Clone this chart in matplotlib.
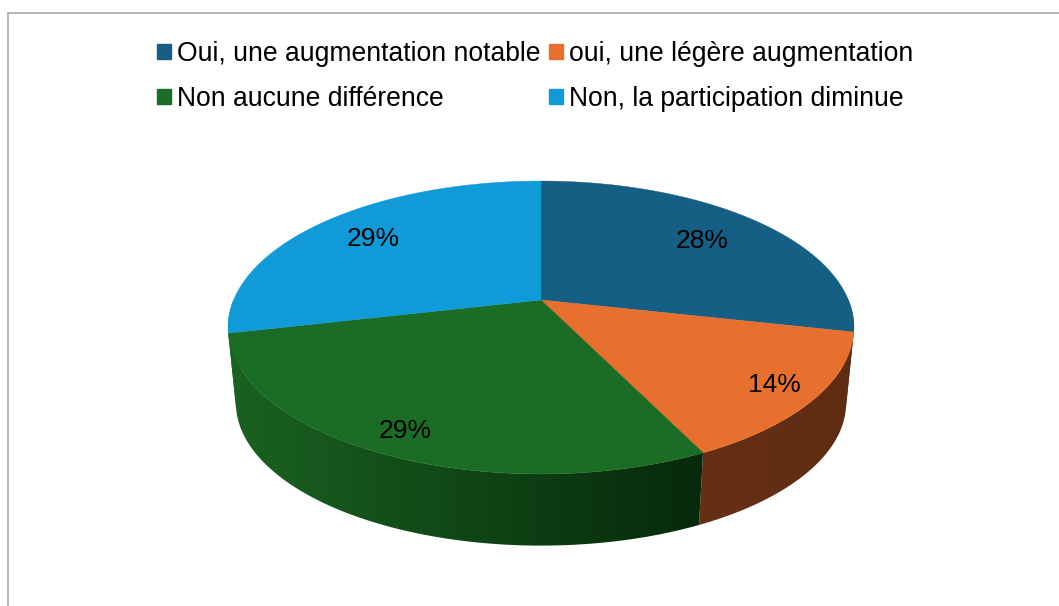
import numpy as np
import matplotlib
matplotlib.use('Agg')
import matplotlib.pyplot as plt
from matplotlib.patches import Patch, Polygon
from matplotlib.colors import to_rgb

plt.rcParams['font.family'] = ['Liberation Sans', 'DejaVu Sans']

# data
categories = ['Oui, une augmentation notable', 'oui, une légère augmentation',
              'Non aucune différence', 'Non, la participation diminue']
shares = [28.49, 14.29, 28.61, 28.61]
top_colors = ['#155f85', '#e8702e', '#1b6c25', '#109bd8']
# rim colours, at the left and the right end of each slice
rim_left = ['#663015', '#663015', '#1a6221', '#1a6221']
rim_right = ['#5f2c12', '#5f2c12', '#062a0b', '#1a6221']
label_radius = [0.73, 0.87, 0.875, 0.76]

# pie geometry, in pixels of the picture
cx, cy = 541, 300
ax_x, ax_y = 307.4, 141.3
persp = 0.1877
low_scale, low_cy = 0.975, 376


def project(angle, r=1.0, centre_y=cy, scale=1.0):
    # clockwise angle from the top of the pie -> picture position
    u, v = r * np.sin(angle), r * np.cos(angle)
    d = 1 + persp * v
    return cx + scale * ax_x * u / d, centre_y - scale * ax_y * v / d


fig = plt.figure(figsize=(10.59, 6.06), dpi=100)
ax = fig.add_axes([8 / 1059, 0, 1 - 8 / 1059, 1 - 13 / 606])
ax.set_xticks([])
ax.set_yticks([])
for side in ['bottom', 'right']:
    ax.spines[side].set_visible(False)
for side in ['top', 'left']:
    ax.spines[side].set_color('#a9a9a9')
    ax.spines[side].set_linewidth(1.2)

edges = np.deg2rad(np.concatenate([[0], np.cumsum(shares)]) * 3.6)

# rim first, only the front half shows
for i in range(len(shares)):
    a0, a1 = max(edges[i], np.pi / 2), min(edges[i + 1], 3 * np.pi / 2)
    if a1 <= a0:
        continue
    seg = np.linspace(a0, a1, 80)
    x_up, y_up = project(seg)
    x_lo, y_lo = project(seg, centre_y=low_cy, scale=low_scale)
    xs, ys = np.r_[x_up, x_lo[::-1]], np.r_[y_up, y_lo[::-1]]
    # horizontal gradient, clipped to the rim outline
    c0, c1 = np.array(to_rgb(rim_left[i])), np.array(to_rgb(rim_right[i]))
    ramp = np.linspace(0, 1, 64)[None, :, None]
    grad = c0 + (c1 - c0) * ramp
    outline = Polygon(np.c_[xs, ys], closed=True, fc='none', ec='none', transform=ax.transData)
    ax.add_patch(outline)
    im = ax.imshow(grad, extent=[xs.min(), xs.max(), ys.max(), ys.min()],
                   aspect='auto', interpolation='bilinear')
    im.set_clip_path(outline)

ax.set_xlim(8, 1059)
ax.set_ylim(606, 13)

# top faces
for i in range(len(shares)):
    seg = np.linspace(edges[i], edges[i + 1], 120)
    x, y = project(seg)
    ax.fill(np.r_[cx, x], np.r_[cy, y], color=top_colors[i], lw=0.3)

# percentage labels
for i in range(len(shares)):
    mid = (edges[i] + edges[i + 1]) / 2
    x, y = project(mid, label_radius[i])
    ax.text(x, y, f'{shares[i]:.0f}%', fontsize=19, color='black',
            ha='center', va='center')

# legend fills column by column
order = [0, 2, 1, 3]
handles = [Patch(color=top_colors[i]) for i in order]
labels = [categories[i] for i in order]
fig.legend(handles, labels, ncol=2, loc='upper left', bbox_to_anchor=(157 / 1059, 1 - 41 / 606),
           frameon=False, fontsize=19.1, handlelength=0.525, handleheight=0.525,
           handletextpad=0.22, columnspacing=0.34, labelspacing=0.71, borderpad=0,
           borderaxespad=0)

fig.savefig('out.png', dpi=100, facecolor='white')
